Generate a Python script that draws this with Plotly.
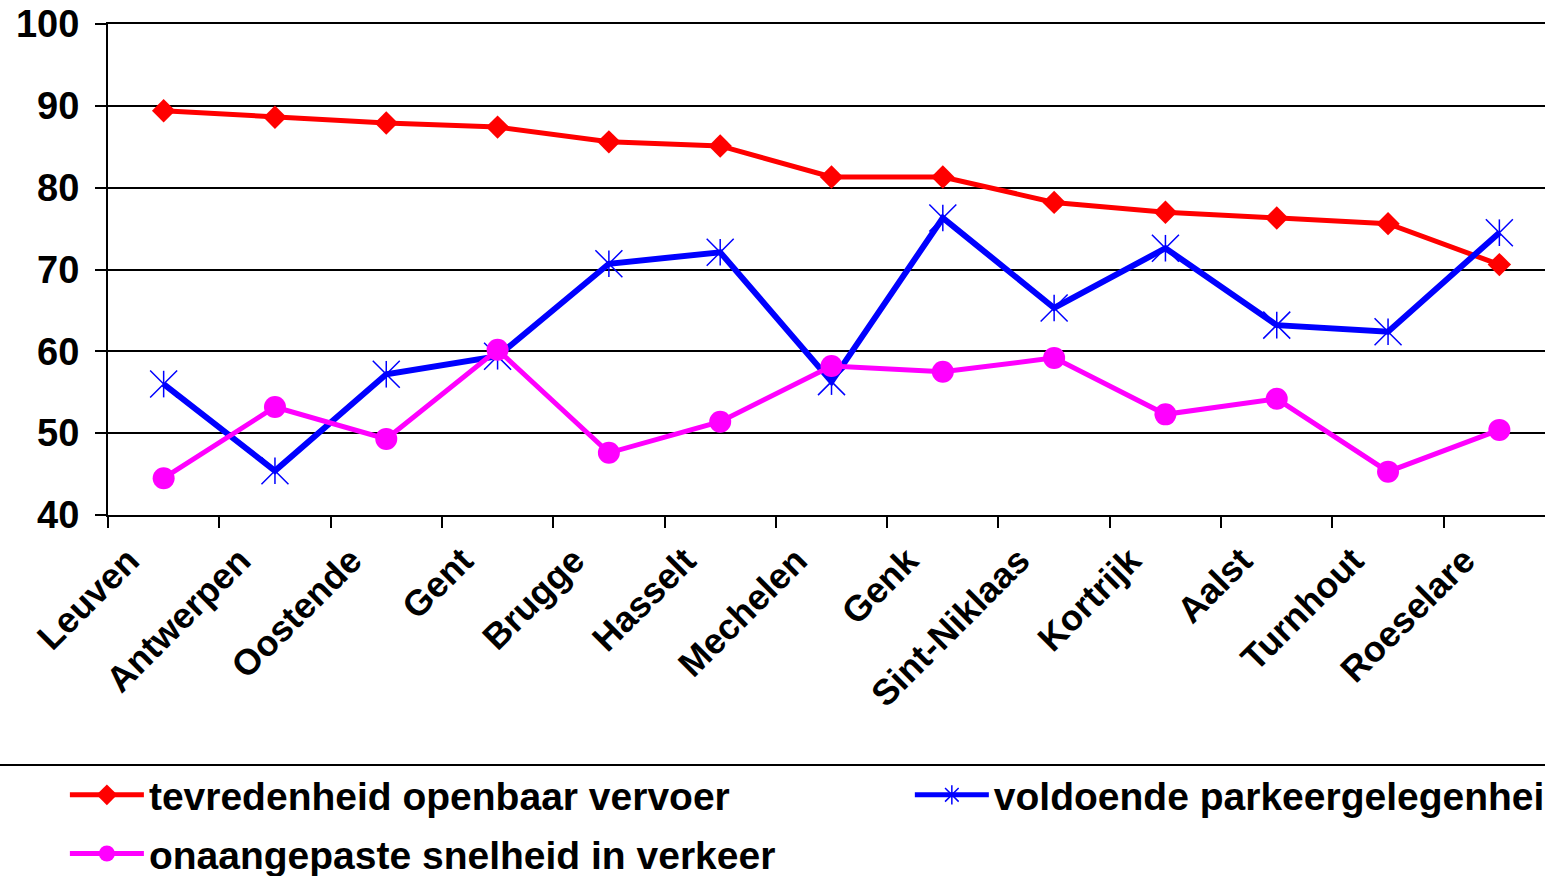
import plotly.graph_objects as go

cities = ["Leuven", "Antwerpen", "Oostende", "Gent", "Brugge", "Hasselt", "Mechelen",
          "Genk", "Sint-Niklaas", "Kortrijk", "Aalst", "Turnhout", "Roeselare"]

tevredenheid_ov = [89.4, 88.6, 87.9, 87.4, 85.6, 85.1, 81.3, 81.3, 78.2, 77.0, 76.3, 75.6, 70.6]
parkeergelegenheid = [56.0, 45.4, 57.2, 59.4, 70.7, 72.1, 56.3, 76.3, 65.3, 72.6, 63.2, 62.4, 74.5]
snelheid_verkeer = [44.5, 53.2, 49.3, 60.2, 47.6, 51.4, 58.2, 57.5, 59.2, 52.3, 54.2, 45.3, 50.4]

y_ticks = [40, 50, 60, 70, 80, 90, 100]

FONT = "Liberation Sans, Arial, sans-serif"
RED, BLUE, MAGENTA = "#FF0000", "#0000FF", "#FF00FF"

fig = go.Figure()

fig.add_trace(go.Scatter(
    x=cities, y=tevredenheid_ov, name="tevredenheid openbaar vervoer",
    mode="lines+markers", line=dict(color=RED, width=5),
    marker=dict(symbol="diamond", size=18, color=RED),
    legend="legend", legendgroup="a",
))

# blue series: line + X, plus a vertical stroke to form the Excel-style star
fig.add_trace(go.Scatter(
    x=cities, y=parkeergelegenheid, showlegend=False,
    mode="lines+markers", line=dict(color=BLUE, width=6),
    marker=dict(symbol="x-thin-open", size=27, color=BLUE,
                line=dict(color=BLUE, width=1.5)),
))
fig.add_trace(go.Scatter(
    x=cities, y=parkeergelegenheid, showlegend=False, mode="markers",
    marker=dict(symbol="line-ns-open", size=19, color=BLUE,
                line=dict(color=BLUE, width=1.5)),
))
# legend entry for the blue series
fig.add_trace(go.Scatter(
    x=[None], y=[None], name="voldoende parkeergelegenheid",
    mode="lines+markers", line=dict(color=BLUE, width=5),
    marker=dict(symbol="asterisk-open", size=16, color=BLUE,
                line=dict(color=BLUE, width=1.5)),
    legend="legend2",
))

fig.add_trace(go.Scatter(
    x=cities, y=snelheid_verkeer, name="onaangepaste snelheid in verkeer",
    mode="lines+markers", line=dict(color=MAGENTA, width=5),
    marker=dict(symbol="circle", size=22, color=MAGENTA),
    legend="legend", legendgroup="b",
))

# horizontal rule above the legend
fig.add_shape(type="line", xref="paper", yref="paper",
              x0=-0.2, x1=1.1, y0=-0.509, y1=-0.509,
              line=dict(color="black", width=2))

legend_font = dict(family=FONT, size=39, color="black", weight="bold")

fig.update_layout(
    width=1545, height=876,
    margin=dict(l=108, r=0, t=24, b=361, autoexpand=False),
    paper_bgcolor="white", plot_bgcolor="white",
    font=dict(family=FONT, size=36, color="black", weight="bold"),
    showlegend=True,
    legend=dict(
        x=-0.030, y=-0.505, xanchor="left", yanchor="top",
        orientation="v", itemwidth=74, tracegroupgap=5,
        font=legend_font, bgcolor="rgba(0,0,0,0)",
    ),
    legend2=dict(
        x=0.558, y=-0.505, xanchor="left", yanchor="top",
        orientation="v", itemwidth=74,
        font=legend_font, bgcolor="rgba(0,0,0,0)",
    ),
    xaxis=dict(
        type="category", range=[-0.5, 12.41],
        showgrid=False, showline=True, mirror=True,
        linecolor="black", linewidth=2,
        ticks="outside", ticklen=11, tickwidth=2, tickcolor="black",
        tickson="boundaries", tickangle=-45,
        ticklabelshift=-35, ticklabelstandoff=8,
        tickfont=dict(family=FONT, size=36, color="black", weight="bold"),
        zeroline=False,
    ),
    yaxis=dict(
        range=[40, 100], tickvals=y_ticks,
        showgrid=True, gridcolor="black", gridwidth=2,
        showline=True, linecolor="black", linewidth=2,
        ticks="outside", ticklen=11, tickwidth=2, tickcolor="black",
        ticklabeloverflow="allow", ticklabelstandoff=8,
        tickfont=dict(family=FONT, size=38, color="black", weight="bold"),
        zeroline=False,
    ),
)

# drop the default 8px page margin so the figure fills the window
fig.write_html("out.html", config={"displayModeBar": False},
               post_script="document.body.style.margin='0';")
